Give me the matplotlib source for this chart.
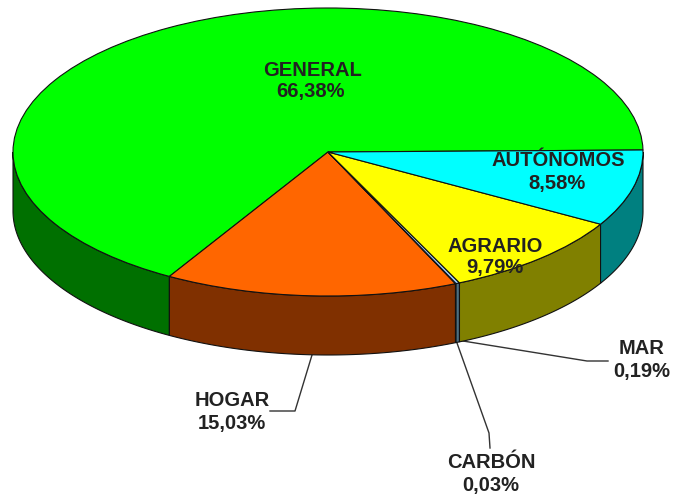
import numpy as np
import matplotlib
matplotlib.use('Agg')
import matplotlib.pyplot as plt

nombres = ['GENERAL', 'HOGAR', 'CARBÓN', 'MAR', 'AGRARIO', 'AUTÓNOMOS']
valores = [66.38, 15.03, 0.03, 0.19, 9.79, 8.58]
etiquetas = ['66,38%', '15,03%', '0,03%', '0,19%', '9,79%', '8,58%']
colores = ['#00ff00', '#ff6600', '#333399', '#99ccff', '#ffff00', '#00ffff']
laterales = ['#007000', '#803000', '#1a1a4d', '#4d6f80', '#808000', '#008080']

# pie geometry in pixels of the 675x500 picture
cx, cy = 328, 152
rx, ry = 315, 144
alto = 59
inicio = 0.8

plt.rcParams['font.family'] = ['Liberation Sans', 'DejaVu Sans']

fig = plt.figure(figsize=(6.75, 5), dpi=100)
ax = fig.add_axes([0, 0, 1, 1])


def px(x, y):
    return (x - cx) / rx, (cy - y) / ry


# top of the pie, radius 1 then squashed by the axis limits
ax.pie(valores, colors=colores, startangle=inicio, counterclock=True, radius=1,
       wedgeprops=dict(edgecolor='#111111', linewidth=0.8, zorder=3))
ax.set_aspect('auto')
ax.set_xlim(px(0, 0)[0], px(675, 0)[0])
ax.set_ylim(px(0, 500)[1], px(0, 0)[1])
ax.axis('off')

# side wall, only the part of each slice on the front of the pie
d = alto / ry
angulos = inicio + np.cumsum([0] + valores) * 360 / sum(valores)
for i in range(len(valores)):
    a = max(angulos[i], 180)
    b = min(angulos[i + 1], 360)
    if b <= a:
        continue
    t = np.radians(np.linspace(a, b, 200))
    x = np.cos(t)
    y = np.sin(t)
    ax.fill(np.r_[x, x[::-1]], np.r_[y, y[::-1] - d], facecolor=laterales[i],
            edgecolor='#111111', linewidth=0.8, zorder=2)

# leader lines
lineas = [
    [(312, 355), (295, 411), (270, 411)],
    [(457, 343), (489, 433), (490, 448)],
    [(463, 341), (587, 361), (608, 361)],
]
for linea in lineas:
    xs, ys = zip(*[px(*p) for p in linea])
    ax.plot(xs, ys, color='#333333', linewidth=1.0, zorder=1)

# label positions in pixels, same order as nombres
pos_nombre = [(313, 71), (232, 400), (491, 462), (642, 349), (495, 246), (558, 161)]
pos_valor = [(311, 92), (232, 423), (491, 486), (642, 372), (495, 267), (557, 183)]
for i in range(len(nombres)):
    x, y = px(*pos_nombre[i])
    ax.text(x, y, nombres[i], ha='center', va='center', fontsize=14.5,
            fontweight='bold', color='#222222', zorder=5)
    x, y = px(*pos_valor[i])
    ax.text(x, y, etiquetas[i], ha='center', va='center', fontsize=14.5,
            fontweight='bold', color='#222222', zorder=5)

fig.savefig('out.png', dpi=100)
